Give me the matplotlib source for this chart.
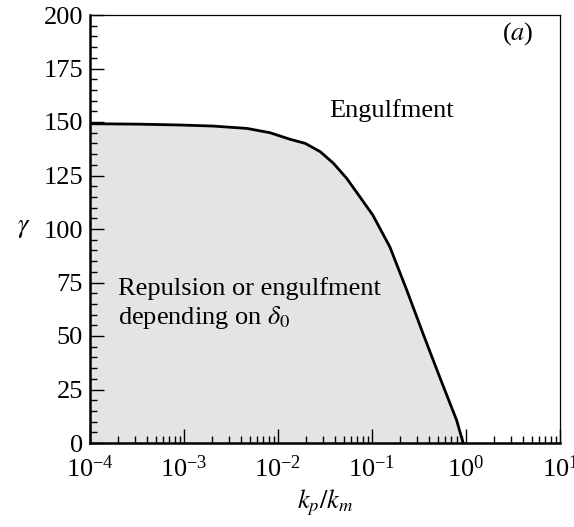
import numpy as np
import matplotlib
matplotlib.use("Agg")
import matplotlib.pyplot as plt
from matplotlib.ticker import LogLocator, MultipleLocator, NullFormatter

# Boundary curve gamma(kp/km)
kp_km = [1e-4, 3.16e-4, 9.1e-4, 2.04e-3, 4.68e-3, 8.2e-3, 1.35e-2, 1.95e-2,
         2.82e-2, 3.89e-2, 5.37e-2, 7.41e-2, 0.102, 0.155, 0.234, 0.347,
         0.525, 0.794, 0.933]
gamma = [149.2, 149.0, 148.6, 148.1, 147.0, 145.0, 141.9, 140.0,
         136.1, 130.7, 123.7, 115.1, 106.5, 91.6, 71.5, 51.4,
         30.8, 10.7, 0.0]

plt.rcParams['font.family'] = ['Liberation Serif', 'DejaVu Serif']
plt.rcParams['mathtext.fontset'] = 'stix'

fig = plt.figure(figsize=(5.74, 5.27), dpi=100)
ax = fig.add_axes([90/574, 1 - 443/527, (560-90)/574, (443-15)/527])

ax.fill_between(kp_km, gamma, 0, color='#e4e4e4', linewidth=0, zorder=1)
ax.plot(kp_km, gamma, color='black', linewidth=2.0, zorder=3,
        solid_joinstyle='round')

ax.set_xscale('log')
ax.set_xlim(1e-4, 1e1)
ax.set_ylim(0, 200)

ax.xaxis.set_major_locator(LogLocator(base=10, numticks=10))
ax.xaxis.set_minor_locator(LogLocator(base=10, subs=np.arange(2, 10), numticks=20))
ax.xaxis.set_minor_formatter(NullFormatter())
ax.yaxis.set_major_locator(MultipleLocator(25))
ax.yaxis.set_minor_locator(MultipleLocator(5))

ax.tick_params(which='both', direction='in', top=False, right=False,
               labelsize=19, width=1.0)
ax.tick_params(axis='x', pad=9)
ax.tick_params(axis='y', pad=5)
ax.tick_params(which='major', length=10)
ax.tick_params(which='minor', length=5)

for s in ['left', 'bottom']:
    ax.spines[s].set_linewidth(1.8)
for s in ['top', 'right']:
    ax.spines[s].set_linewidth(0.9)
for s in ax.spines.values():
    s.set_zorder(4)

ax.set_xlabel(r'$k_p/k_m$', fontsize=19, labelpad=4)
ax.set_ylabel(r'$\gamma$', fontsize=19, rotation=0, labelpad=14, va='center')

ax.text(0.16, 155.6, 'Engulfment', fontsize=19, ha='center', va='center')
ax.text(2.0e-4, 65, 'Repulsion or engulfment\ndepending on $\\delta_0$',
        fontsize=19, ha='left', va='center', linespacing=1.2)
ax.text(3.6, 191.5, r'($\mathit{a}$)', fontsize=19, ha='center', va='center')

fig.savefig('out.png', dpi=100)
